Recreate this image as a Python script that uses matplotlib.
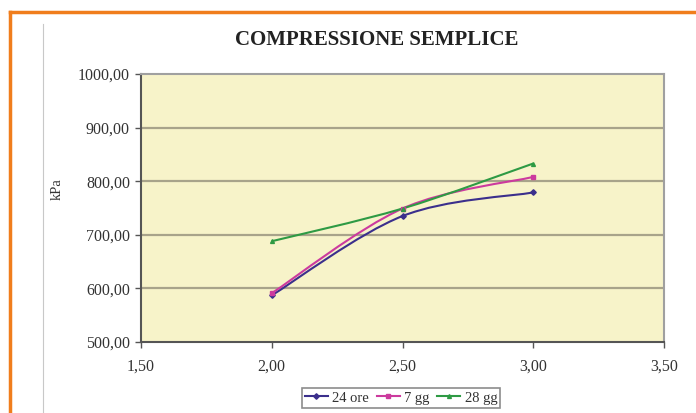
import matplotlib
matplotlib.use('Agg')
import matplotlib.pyplot as plt
import numpy as np
from matplotlib.path import Path
from matplotlib.patches import PathPatch
from matplotlib.lines import Line2D

# data
x_vals = [2.0, 2.5, 3.0]
ore_24 = [587, 735, 779]
gg_7 = [591, 749, 808]
gg_28 = [688, 749, 833]
series_names = ['24 ore', '7 gg', '28 gg']
x_ticks = [1.5, 2.0, 2.5, 3.0, 3.5]
y_ticks = [500, 600, 700, 800, 900, 1000]

colors = ['#3b2f8c', '#cc3a9e', '#2e9a44']
markers = ['D', 's', '^']


def smooth_path(xs, ys, tension=1 / 6):
    # Excel-like smoothed line: cubic bezier through the points
    pts = np.column_stack([xs, ys]).astype(float)
    verts = [pts[0]]
    codes = [Path.MOVETO]
    n = len(pts)
    for i in range(n - 1):
        p0 = pts[i - 1] if i > 0 else pts[i]
        p1 = pts[i]
        p2 = pts[i + 1]
        p3 = pts[i + 2] if i + 2 < n else pts[i + 1]
        c1 = p1 + (p2 - p0) * tension
        c2 = p2 - (p3 - p1) * tension
        verts += [c1, c2, p2]
        codes += [Path.CURVE4] * 3
    return Path(verts, codes)


plt.rcParams['font.family'] = ['Liberation Serif', 'DejaVu Serif']

fig = plt.figure(figsize=(6.96, 4.13), dpi=100)
ax = fig.add_axes([141 / 696, 1 - 342 / 413, 523 / 696, 268 / 413])
ax.set_facecolor('#f7f3c9')

for yv in y_ticks[1:-1]:
    ax.axhline(yv, color='#a8a38a', lw=1.6, zorder=1)

for ys, c, m, name in zip([ore_24, gg_7, gg_28], colors, markers, series_names):
    ax.add_patch(PathPatch(smooth_path(x_vals, ys), fill=False, edgecolor=c, lw=1.5, zorder=3))
    ax.plot(x_vals, ys, ls='none', marker=m, ms=2.8, color=c, zorder=4)

ax.set_xlim(1.5, 3.5)
ax.set_ylim(500, 1000)
ax.set_xticks(x_ticks)
ax.set_yticks(y_ticks)
ax.set_xticklabels([f'{v:.2f}'.replace('.', ',') for v in x_ticks], fontsize=11.5, color='#333333')
ax.set_yticklabels([f'{v:.2f}'.replace('.', ',') for v in y_ticks], fontsize=11.5, color='#333333')
ax.tick_params(direction='out', length=4, width=1, color='#555555', pad=4)
ax.tick_params(axis='x', pad=8)
for s in ['left', 'bottom']:
    ax.spines[s].set_color('#555555')
    ax.spines[s].set_linewidth(1.5)
for s in ['top', 'right']:
    ax.spines[s].set_color('#a0a0a0')
    ax.spines[s].set_linewidth(1.5)

ax.set_ylabel('kPa', fontsize=10.5, color='#333333')
ax.yaxis.set_label_coords(-0.148, 0.57)

fig.text(377 / 696, 1 - 40 / 413, 'COMPRESSIONE SEMPLICE', ha='center', va='center',
         fontsize=15, fontweight='bold', color='#222222')

handles = [Line2D([], [], color=c, marker=m, ms=2.8, lw=1.5) for c, m in zip(colors, markers)]
leg = fig.legend(handles, series_names, loc='center', bbox_to_anchor=(401 / 696, 1 - 398 / 413),
                 ncol=3, fontsize=10.5, frameon=True, fancybox=False, handlelength=1.6,
                 handletextpad=0.3, columnspacing=0.5, borderpad=0.2, borderaxespad=0)
leg.get_frame().set_edgecolor('#707070')
leg.get_frame().set_linewidth(1.2)
for t in leg.get_texts():
    t.set_color('#333333')

# page decorations: orange frame and chart-area edge
fig.add_artist(Line2D([9.5 / 696, 9.5 / 696], [0, 1 - 12 / 413], color='#f07d1c', lw=2.5,
                      transform=fig.transFigure))
fig.add_artist(Line2D([9.5 / 696, 1], [1 - 12 / 413, 1 - 12 / 413], color='#f07d1c', lw=2.5,
                      transform=fig.transFigure))
fig.add_artist(Line2D([43 / 696, 43 / 696], [0, 1 - 24 / 413], color='#c8c8c8', lw=0.8,
                      transform=fig.transFigure))

fig.savefig('out.png', dpi=100, facecolor='white')
